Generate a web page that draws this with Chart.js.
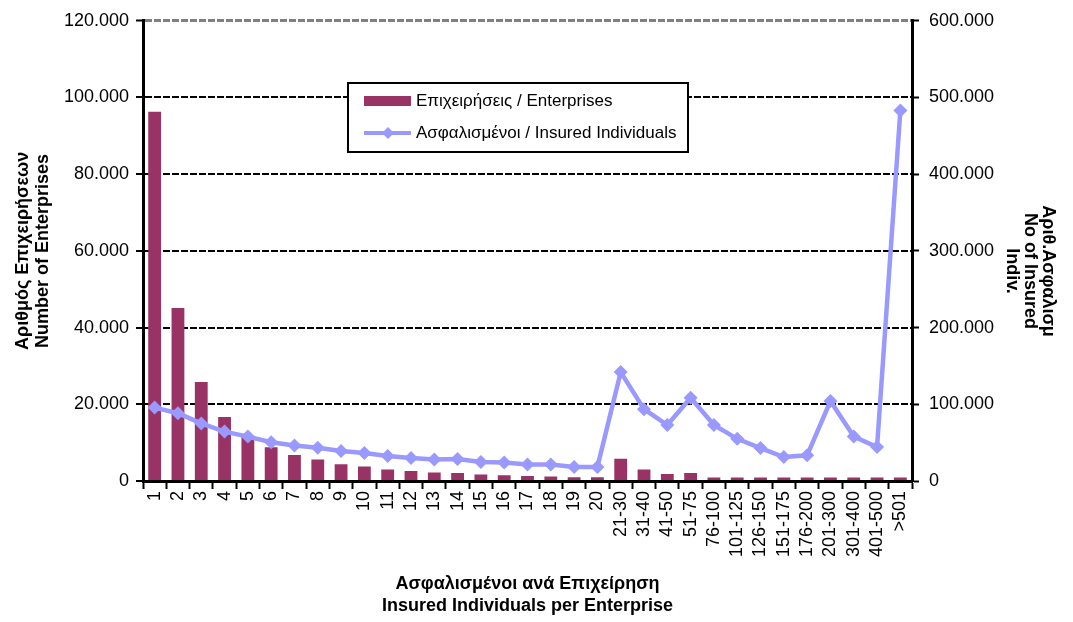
<!DOCTYPE html>
<html>
<head>
<meta charset="utf-8">
<script src="https://cdn.jsdelivr.net/npm/chart.js@4.4.1/dist/chart.umd.min.js"></script>
<style>
    html, body { margin: 0; padding: 0; background: #fff; }
    #wrap { width: 1073px; height: 622px; }
</style>
</head>
<body>
<div id="wrap"><canvas id="chart" width="1073" height="622"></canvas></div>
<script>
// Κατηγορίες: ασφαλισμένοι ανά επιχείρηση
const categories = ['1', '2', '3', '4', '5', '6', '7', '8', '9', '10',
    '11', '12', '13', '14', '15', '16', '17', '18', '19', '20',
    '21-30', '31-40', '41-50', '51-75', '76-100', '101-125', '126-150',
    '151-175', '176-200', '201-300', '301-400', '401-500', '>501'];

// Επιχειρήσεις / Enterprises (αριστερός άξονας)
const enterprises = [96300, 45100, 25800, 16700, 11800, 8800, 6800, 5600, 4400, 3800,
    3000, 2600, 2200, 2100, 1700, 1500, 1300, 1200, 1000, 950,
    5800, 3000, 1800, 2100, 900, 900, 900, 900, 900, 900, 900, 900, 900];

// Ασφαλισμένοι / Insured Individuals (δεξιός άξονας)
const insured = [95700, 88400, 75100, 64400, 57900, 50600, 46400, 43400, 39000, 36500,
    32600, 30000, 27900, 28700, 24900, 24000, 21500, 21500, 18400, 18400,
    142000, 93600, 73000, 108600, 73000, 55000, 42900, 31300, 33500, 104300,
    57900, 44200, 482900];

const leftTicks = { min: 0, max: 120000, step: 20000 };
const rightTicks = { min: 0, max: 600000, step: 100000 };

const colors = {
    bar: '#993366',
    line: '#9999ff',
    axis: '#000000',
    topGrid: '#808080'
};

const fontFamily = "'Liberation Sans', Arial, sans-serif";
Chart.defaults.font.family = fontFamily;
Chart.defaults.color = '#000';

// 120000 -> "120.000"
function fmt(v) {
    return String(Math.round(v)).replace(/\B(?=(\d{3})+(?!\d))/g, '.');
}

// Τίτλος δεξιού άξονα
const rightTitle = {
    id: 'rightTitle',
    afterDraw(chart) {
        const ctx = chart.ctx;
        const lines = ['Αριθ.Ασφαλισμ', 'No of Insured', 'Indiv.'];
        ctx.save();
        ctx.font = 'bold 18px ' + fontFamily;
        ctx.fillStyle = '#000';
        ctx.textAlign = 'center';
        ctx.textBaseline = 'middle';
        lines.forEach((t, i) => {
            ctx.save();
            ctx.translate(1048 - i * 18, 271);
            ctx.rotate(Math.PI / 2);
            ctx.fillText(t, 0, 0);
            ctx.restore();
        });
        ctx.restore();
    }
};

// Υπόμνημα μέσα στην περιοχή του γραφήματος
const boxLegend = {
    id: 'boxLegend',
    afterDraw(chart) {
        const ctx = chart.ctx;
        const ds = chart.data.datasets;
        ctx.save();
        ctx.fillStyle = '#fff';
        ctx.fillRect(348, 83, 340, 69);
        ctx.strokeStyle = '#000';
        ctx.lineWidth = 2;
        ctx.strokeRect(348, 83, 340, 69);

        ctx.font = '17px ' + fontFamily;
        ctx.textAlign = 'left';
        ctx.textBaseline = 'middle';

        // bar
        ctx.fillStyle = ds[0].backgroundColor;
        ctx.fillRect(364, 96, 47, 10);
        ctx.fillStyle = '#000';
        ctx.fillText(ds[0].label, 416, 101);

        // line
        ctx.strokeStyle = ds[1].borderColor;
        ctx.lineWidth = 4;
        ctx.beginPath();
        ctx.moveTo(364, 133);
        ctx.lineTo(411, 133);
        ctx.stroke();
        ctx.fillStyle = ds[1].borderColor;
        ctx.beginPath();
        ctx.moveTo(388, 127);
        ctx.lineTo(394, 133);
        ctx.lineTo(388, 139);
        ctx.lineTo(382, 133);
        ctx.closePath();
        ctx.fill();
        ctx.fillStyle = '#000';
        ctx.fillText(ds[1].label, 416, 133);
        ctx.restore();
    }
};

new Chart(document.getElementById('chart'), {
    type: 'bar',
    data: {
        labels: categories,
        datasets: [
            {
                type: 'bar',
                label: 'Επιχειρήσεις / Enterprises',
                data: enterprises,
                yAxisID: 'y',
                backgroundColor: colors.bar,
                barPercentage: 0.55,
                categoryPercentage: 1.0,
                order: 1
            },
            {
                type: 'line',
                label: 'Ασφαλισμένοι / Insured Individuals',
                data: insured,
                yAxisID: 'y1',
                borderColor: colors.line,
                backgroundColor: colors.line,
                borderWidth: 4.5,
                pointStyle: 'rectRot',
                pointRadius: 7,
                pointBackgroundColor: colors.line,
                pointBorderWidth: 0,
                tension: 0,
                order: 0
            }
        ]
    },
    options: {
        responsive: false,
        animation: false,
        layout: { padding: { top: 15, left: 0, right: 0, bottom: 0 } },
        plugins: {
            legend: { display: false },
            tooltip: { enabled: false }
        },
        scales: {
            x: {
                afterFit: (s) => { s.height = 141; },
                offset: true,
                grid: {
                    offset: true,
                    drawOnChartArea: false,
                    tickLength: 8,
                    tickWidth: 2,
                    tickColor: colors.axis
                },
                border: { color: colors.axis, width: 3, z: 1 },
                ticks: {
                    autoSkip: false,
                    maxRotation: 90,
                    minRotation: 90,
                    padding: 2,
                    color: '#000',
                    font: { size: 18 }
                },
                title: {
                    display: true,
                    text: ['Ασφαλισμένοι ανά Επιχείρηση', 'Insured Individuals per Enterprise'],
                    color: '#000',
                    font: { size: 18, weight: 'bold', lineHeight: 1.22 },
                    padding: { top: 0, bottom: 5 }
                }
            },
            y: {
                position: 'left',
                afterFit: (s) => { s.width = 143; },
                min: leftTicks.min,
                max: leftTicks.max,
                ticks: {
                    stepSize: leftTicks.step,
                    padding: 7,
                    color: '#000',
                    font: { size: 18 },
                    callback: (v) => fmt(v)
                },
                grid: {
                    color: (c) => (c.tick && c.tick.value === leftTicks.max) ? colors.topGrid : colors.axis,
                    lineWidth: (c) => (c.tick && c.tick.value === leftTicks.max) ? 3 : 2,
                    tickLength: 7,
                    tickWidth: 2,
                    tickColor: colors.axis
                },
                border: { color: colors.axis, width: 3, dash: [7, 2], z: 1 },
                title: {
                    display: true,
                    text: ['Αριθμός Επιχειρήσεων', 'Number of Enterprises'],
                    color: '#000',
                    font: { size: 18, weight: 'bold', lineHeight: 1.1 },
                    padding: { top: 13, bottom: 0 }
                }
            },
            y1: {
                position: 'right',
                afterFit: (s) => { s.width = 161; },
                min: rightTicks.min,
                max: rightTicks.max,
                ticks: {
                    stepSize: rightTicks.step,
                    padding: 10,
                    color: '#000',
                    font: { size: 18 },
                    callback: (v) => fmt(v)
                },
                grid: {
                    drawOnChartArea: false,
                    tickLength: 7,
                    tickWidth: 2,
                    tickColor: colors.axis
                },
                border: { color: colors.axis, width: 3, z: 1 }
            }
        }
    },
    plugins: [rightTitle, boxLegend]
});
</script>
</body>
</html>
